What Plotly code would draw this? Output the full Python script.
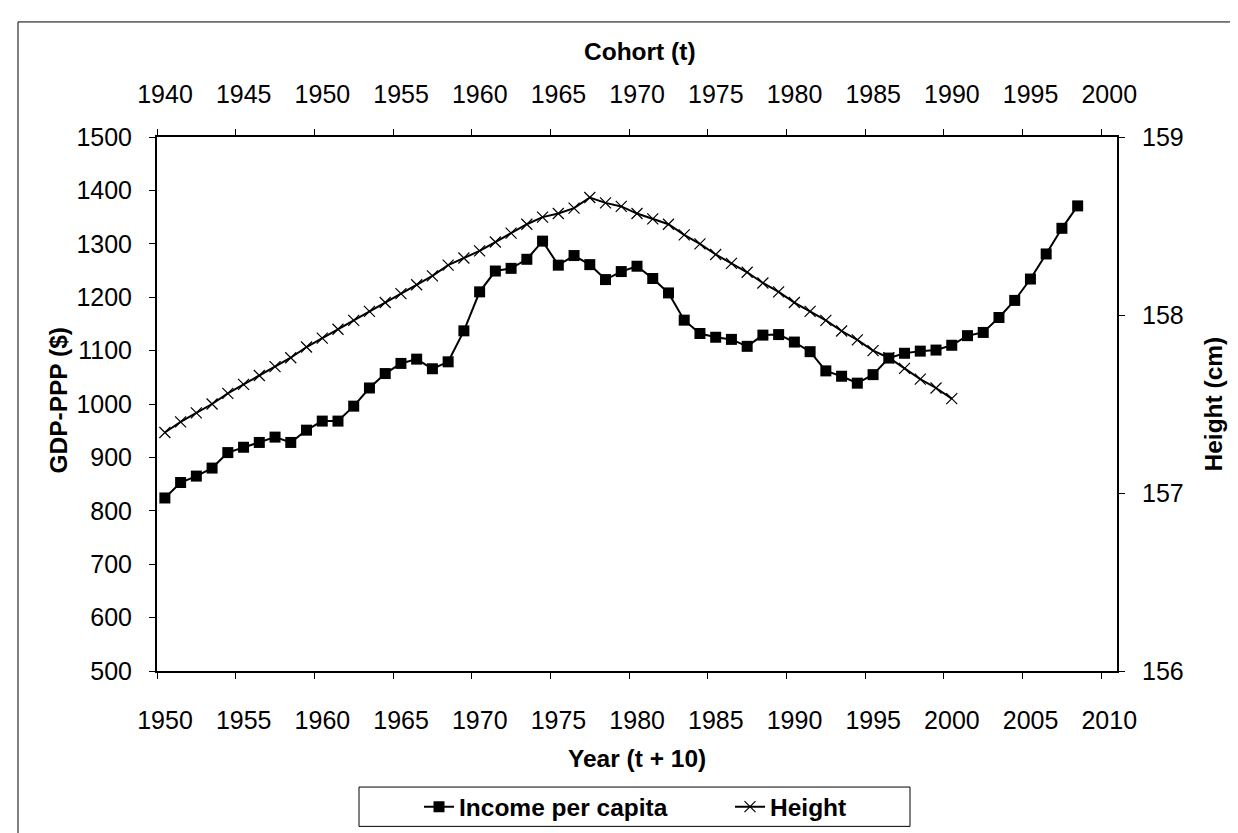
import plotly.graph_objects as go

# ---------------- data ----------------
years = list(range(1950, 2009))
income = [824, 853, 865, 880, 909, 919, 928, 938, 928, 951,
          968, 968, 996, 1030, 1057, 1076, 1084, 1066, 1079, 1137,
          1210, 1249, 1254, 1271, 1305, 1260, 1278, 1261, 1233, 1248,
          1258, 1235, 1208, 1157, 1132, 1125, 1121, 1108, 1129, 1130,
          1116, 1098, 1062, 1052, 1039, 1055, 1086, 1095, 1099, 1101,
          1110, 1128, 1134, 1162, 1194, 1234, 1281, 1329, 1371]

cohorts = list(range(1940, 1991))
height = [157.34, 157.40, 157.45, 157.50, 157.56, 157.61, 157.66, 157.71, 157.76, 157.82,
          157.87, 157.92, 157.97, 158.02, 158.07, 158.12, 158.17, 158.22, 158.28, 158.32,
          158.36, 158.41, 158.46, 158.51, 158.55, 158.57, 158.60, 158.66, 158.63, 158.61,
          158.57, 158.54, 158.51, 158.45, 158.40, 158.34, 158.29, 158.24, 158.18, 158.13,
          158.07, 158.02, 157.97, 157.91, 157.86, 157.80, 157.76, 157.70, 157.64, 157.59,
          157.53]

year_labels = [str(y) for y in range(1950, 2011, 5)]
cohort_labels = [str(y) for y in range(1940, 2001, 5)]
gdp_ticks = list(range(500, 1501, 100))
height_ticks = [156, 157, 158, 159]

# ---------------- layout geometry ----------------
W, H = 1238, 833
L, R, T, B = 149, 1109, 129, 672
PW, PH = R - L, B - T


def px(x):
    return (x - L) / PW


def py(y):
    return (B - y) / PH


FONT = "Liberation Sans, Arial, sans-serif"
TICKF = dict(family=FONT, size=25, color="black")
BOLDF = dict(family=FONT, size=24.5, color="black", weight="bold")

fig = go.Figure()
fig.add_trace(go.Scatter(
    x=years, y=income, name="Income per capita", mode="lines+markers",
    line=dict(color="black", width=2),
    marker=dict(symbol="square", size=11, color="black"),
    xaxis="x", yaxis="y"))
fig.add_trace(go.Scatter(
    x=cohorts, y=height, name="Height", mode="lines+markers",
    line=dict(color="black", width=2),
    marker=dict(symbol="x-thin", size=11, color="black",
                line=dict(color="black", width=1.2)),
    xaxis="x2", yaxis="y2"))

xb_vals = [int(s) - 0.5 for s in year_labels]
xt_vals = [int(s) - 0.5 for s in cohort_labels]
xr_b = [years[0] - 0.5, int(year_labels[-1]) + 0.5]
xr_t = [cohorts[0] - 0.5, int(cohort_labels[-1]) + 0.5]

common = dict(showgrid=False, zeroline=False, tickcolor="black", tickwidth=1,
              ticklen=6, tickfont=TICKF)

fig.update_layout(
    width=W, height=H,
    margin=dict(l=L, r=W - R, t=T, b=H - B, pad=0),
    paper_bgcolor="white", plot_bgcolor="white",
    font=dict(family=FONT, color="black"),
    showlegend=True,
    xaxis=dict(range=xr_b, tickmode="array", tickvals=xb_vals, ticktext=year_labels,
               ticks="outside", showline=True, linecolor="black", linewidth=2,
               ticklabelshift=8, ticklabelstandoff=20, anchor="y", side="bottom", **common),
    xaxis3=dict(range=xr_b, tickmode="array", tickvals=xb_vals, ticks="inside",
                showticklabels=False, showline=False, overlaying="x", anchor="y",
                side="bottom", **common),
    xaxis2=dict(range=xr_t, tickmode="array", tickvals=xt_vals, ticktext=cohort_labels,
                ticks="outside", showline=True, linecolor="black", linewidth=2,
                ticklabelshift=8, ticklabelstandoff=16, overlaying="x", anchor="y",
                side="top", **common),
    xaxis4=dict(range=xr_t, tickmode="array", tickvals=xt_vals, ticks="inside",
                showticklabels=False, showline=False, overlaying="x", anchor="y",
                side="top", **common),
    yaxis=dict(range=[500, 1500], tickmode="array", tickvals=gdp_ticks,
               ticks="outside", showline=True, linecolor="black", linewidth=2,
               ticklabelstandoff=12, anchor="x", side="left", **common),
    yaxis3=dict(range=[500, 1500], tickmode="array", tickvals=gdp_ticks,
                ticks="inside", showticklabels=False, showline=False,
                overlaying="y", anchor="x", side="left", **common),
    yaxis2=dict(range=[156, 159], tickmode="array", tickvals=height_ticks,
                ticks="outside", showline=True, linecolor="black", linewidth=2,
                ticklabelstandoff=12, overlaying="y", anchor="x", side="right", **common),
    yaxis4=dict(range=[156, 159], tickmode="array", tickvals=height_ticks,
                ticks="inside", showticklabels=False, showline=False,
                overlaying="y", anchor="x", side="right", **common),
    legend=dict(orientation="h", x=px(411), xanchor="left", y=py(810), yanchor="middle",
                font=BOLDF, bgcolor="rgba(0,0,0,0)", borderwidth=0,
                entrywidth=266, entrywidthmode="pixels", itemwidth=30),
)

# axis titles
fig.add_annotation(text="Cohort (t)", x=px(632), y=py(42), xref="paper", yref="paper",
                   showarrow=False, font=BOLDF, xanchor="center", yanchor="middle")
fig.add_annotation(text="Year (t + 10)", x=px(629), y=py(761), xref="paper", yref="paper",
                   showarrow=False, font=BOLDF, xanchor="center", yanchor="middle")
fig.add_annotation(text="GDP-PPP ($)", x=px(51), y=py(397), xref="paper", yref="paper",
                   showarrow=False, font=BOLDF, textangle=-90,
                   xanchor="center", yanchor="middle")
fig.add_annotation(text="Height (cm)", x=px(1205), y=py(401), xref="paper", yref="paper",
                   showarrow=False, font=BOLDF, textangle=-90,
                   xanchor="center", yanchor="middle")

# outer chart frame and legend box
fig.add_shape(type="rect", xref="paper", yref="paper",
              x0=px(10), x1=px(1228), y0=py(840), y1=py(12),
              line=dict(color="black", width=1), fillcolor="rgba(0,0,0,0)", layer="below")
fig.add_shape(type="rect", xref="paper", yref="paper",
              x0=px(351), x1=px(902), y0=py(830), y1=py(790),
              line=dict(color="black", width=1), fillcolor="rgba(0,0,0,0)", layer="below")

fig.write_html("out.html")
